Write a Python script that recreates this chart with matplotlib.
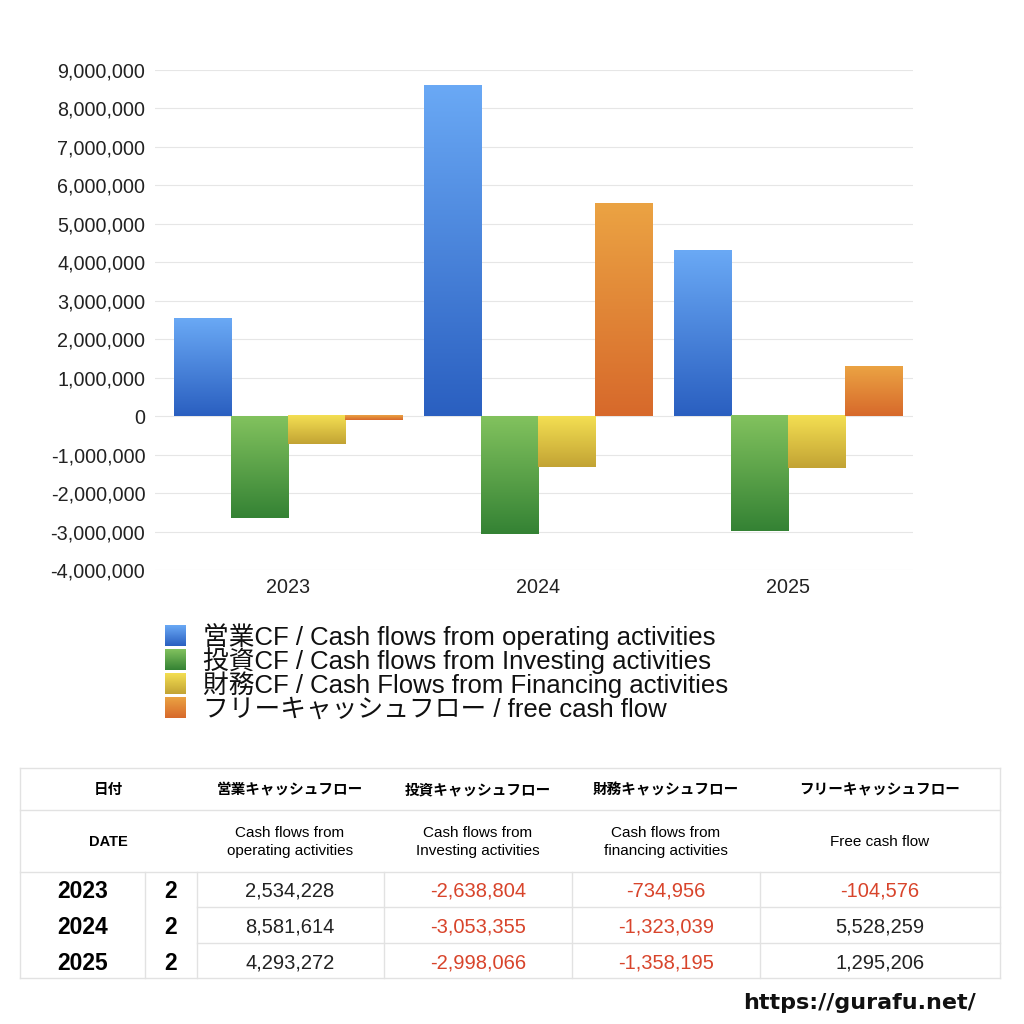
import numpy as np
import matplotlib
matplotlib.use('Agg')
import matplotlib.pyplot as plt
from matplotlib.colors import LinearSegmentedColormap
from matplotlib.ticker import FuncFormatter

plt.rcParams['font.family'] = ['Liberation Sans', 'Noto Sans CJK JP', 'DejaVu Sans']

years = ['2023', '2024', '2025']
months = ['2', '2', '2']
eigyo = [2534228, 8581614, 4293272]
toshi = [-2638804, -3053355, -2998066]
zaimu = [-734956, -1323039, -1358195]
free_cf = [-104576, 5528259, 1295206]

series = [eigyo, toshi, zaimu, free_cf]
labels = ['営業CF / Cash flows from operating activities',
          '投資CF / Cash flows from Investing activities',
          '財務CF / Cash Flows from Financing activities',
          'フリーキャッシュフロー / free cash flow']
# top (light) -> bottom (dark)
grads = [('#6aa9f5', '#2a5fc0'),
         ('#82c25e', '#348234'),
         ('#f4df52', '#c2a334'),
         ('#eba343', '#d7692b')]

head_jp = ['営業キャッシュフロー', '投資キャッシュフロー', '財務キャッシュフロー', 'フリーキャッシュフロー']
head_en = ['Cash flows from\noperating activities', 'Cash flows from\nInvesting activities',
           'Cash flows from\nfinancing activities', 'Free cash flow']

fig = plt.figure(figsize=(10.24, 10.24), dpi=100)
ax = fig.add_axes([155/1024, 1 - 570/1024, 758/1024, 500/1024])

grad = np.linspace(0, 1, 256).reshape(-1, 1)
cmaps = [LinearSegmentedColormap.from_list('g%d' % i, g) for i, g in enumerate(grads)]

x = np.arange(len(years))
w = 0.228
for i, vals in enumerate(series):
    pos = x + (i - 1.5) * w
    bars = ax.bar(pos, vals, w, color='none', edgecolor='none', zorder=3)
    for b in bars:
        x0 = b.get_x()
        y0 = min(b.get_y(), b.get_y() + b.get_height())
        y1 = max(b.get_y(), b.get_y() + b.get_height())
        ax.imshow(grad, extent=[x0, x0 + w, y0, y1], origin='upper',
                  aspect='auto', cmap=cmaps[i], zorder=3)

ax.set_xlim(-0.53, 2.5)
ax.set_ylim(-4000000, 9000000)
ax.set_yticks(np.arange(-4000000, 9000001, 1000000))
ax.yaxis.set_major_formatter(FuncFormatter(lambda v, p: '{:,}'.format(int(v))))
ax.set_xticks(x)
ax.set_xticklabels(years)
ax.tick_params(length=0, labelsize=14.2, colors='#222222')
ax.tick_params(axis='y', pad=7)
ax.tick_params(axis='x', pad=6)
ax.grid(axis='y', color='#e6e6e6', linewidth=0.8, zorder=0)
for s in ax.spines.values():
    s.set_visible(False)

# overlay in pixel coordinates for legend and table
t = fig.add_axes([0, 0, 1, 1])
t.set_xlim(0, 1024)
t.set_ylim(1024, 0)
t.axis('off')

# legend
for i, lab in enumerate(labels):
    yc = 636 + i * 24
    t.imshow(grad, extent=[165, 186, yc + 10.5, yc - 10.5], origin='upper',
             aspect='auto', cmap=cmaps[i], zorder=3)
    t.text(203, yc + 9, lab, ha='left', va='baseline', fontsize=18.5, color='#111111')

# table
lc = '#e2e2e2'
for yy in [768, 810, 872]:
    t.plot([20, 1000], [yy, yy], color=lc, lw=1)
t.plot([20, 1000], [978, 978], color=lc, lw=1)
for yy in [907, 943]:
    t.plot([197, 1000], [yy, yy], color=lc, lw=1)
t.plot([20, 20], [768, 978], color=lc, lw=1)
t.plot([1000, 1000], [768, 978], color=lc, lw=1)
for xx in [145, 197, 384, 572, 760]:
    t.plot([xx, xx], [872, 978], color=lc, lw=1)

col_c = [290, 478, 666, 880]
t.text(108, 790, '日付', ha='center', va='center', fontsize=10.5, fontweight='bold')
t.text(108, 842, 'DATE', ha='center', va='center', fontsize=10.5, fontweight='bold')
for cx, hj, he in zip(col_c, head_jp, head_en):
    t.text(cx, 790, hj, ha='center', va='center', fontsize=10.5, fontweight='bold')
    t.text(cx, 842, he, ha='center', va='center', fontsize=11, linespacing=1.45)

row_c = [891, 927, 963]
for r, yc in enumerate(row_c):
    t.text(83, yc, years[r], ha='center', va='center', fontsize=16.5, fontweight='bold')
    t.text(171, yc, months[r], ha='center', va='center', fontsize=16.5, fontweight='bold')
    for cx, vals in zip(col_c, series):
        v = vals[r]
        t.text(cx, yc, '{:,}'.format(v), ha='center', va='center', fontsize=14.5,
               color='#d8442b' if v < 0 else '#222222')

t.text(976, 1003, 'https://gurafu.net/', ha='right', va='center', fontsize=16,
       fontweight='bold', family='DejaVu Sans', color='#111111')

fig.savefig('out.png', dpi=100)
